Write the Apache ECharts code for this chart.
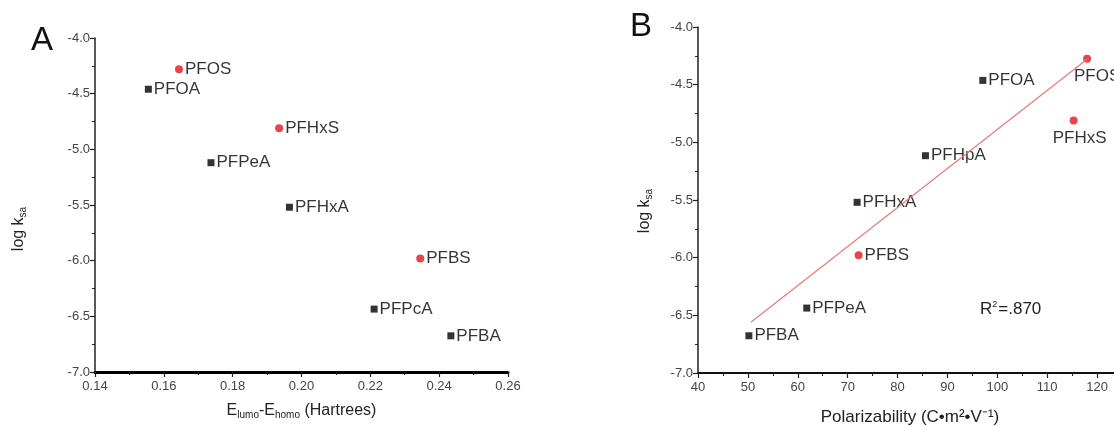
<!DOCTYPE html>
<html>
<head>
<meta charset="utf-8">
<script src="https://cdn.jsdelivr.net/npm/echarts@6/dist/echarts.min.js"></script>
<style>html,body{margin:0;padding:0;background:#fff;}#c{width:1114px;height:427px;}</style>
</head>
<body>
<div id="c"></div>
<script>
// Panel A: E_lumo - E_homo vs log k_sa
const aSquareNames = ['PFOA', 'PFPeA', 'PFHxA', 'PFPcA', 'PFBA'];
const aSquareX = [0.1555, 0.1737, 0.1965, 0.2211, 0.2434];
const aSquareY = [-4.46, -5.12, -5.52, -6.435, -6.675];
const aCircleNames = ['PFOS', 'PFHxS', 'PFBS'];
const aCircleX = [0.1644, 0.1935, 0.2345];
const aCircleY = [-4.28, -4.81, -5.98];

// Panel B: Polarizability vs log k_sa
const bSquareNames = ['PFOA', 'PFHpA', 'PFHxA', 'PFPeA', 'PFBA'];
const bSquareX = [97.1, 85.6, 71.9, 61.8, 50.2];
const bSquareY = [-4.463, -5.116, -5.52, -6.437, -6.677];
const bCircleNames = ['PFOS', 'PFHxS', 'PFBS'];
const bCircleX = [118.0, 115.3, 72.2];
const bCircleY = [-4.275, -4.81, -5.98];
const bFitX = [50.6, 118.0];
const bFitY = [-6.56, -4.28];
const bR2Text = 'R{sup|2}=.870';

const FONT = 'Liberation Sans, Arial, sans-serif';

function pts(names, xs, ys) {
  return names.map((n, i) => ({ name: n, value: [xs[i], ys[i]] }));
}

const chart = echarts.init(document.getElementById('c'));

function axisCommon(extra) {
  return Object.assign({
    type: 'value',
    splitLine: { show: false },
    axisLine: { show: true, onZero: false, lineStyle: { color: '#222', width: 1.5 } },
    axisTick: { show: true, inside: false, length: 5, lineStyle: { color: '#222', width: 1.2 } },
    minorTick: { show: true, splitNumber: 2, length: 3, lineStyle: { color: '#222', width: 1 } }
  }, extra);
}

const labelRight = { show: true, position: 'right', distance: 2, formatter: '{b}', color: '#000', fontSize: 17, fontFamily: FONT };

chart.setOption({
  animation: false,
  backgroundColor: '#fff',
  grid: [
    { left: 95, top: 38, width: 413, height: 334, outerBoundsMode: 'none', containLabel: false },
    { left: 698, top: 27, width: 424, height: 346, outerBoundsMode: 'none', containLabel: false }
  ],
  xAxis: [
    axisCommon({
      gridIndex: 0, min: 0.14, max: 0.26, interval: 0.02,
      axisLine: { show: true, onZero: false, lineStyle: { color: '#000', width: 3 } },
      axisLabel: { color: '#444', fontSize: 13, fontFamily: FONT, margin: 8, formatter: v => v.toFixed(2) },
      name: 'E{sub|lumo}-E{sub|homo} (Hartrees)', nameLocation: 'middle', nameGap: 29,
      nameTextStyle: { color: '#222', fontSize: 16, fontFamily: FONT,
        rich: { sub: { fontSize: 10, verticalAlign: 'bottom', padding: [9, 0, 0, 0], fontFamily: FONT, color: '#222' } } }
    }),
    axisCommon({
      gridIndex: 1, min: 40, max: 125, interval: 10,
      axisLine: { show: true, onZero: false, lineStyle: { color: '#111', width: 2 } },
      axisLabel: { color: '#444', fontSize: 13, fontFamily: FONT, margin: 8, showMaxLabel: false },
      name: 'Polarizability (C\u2022m\u00b2\u2022V\u207b\u00b9)', nameLocation: 'middle', nameGap: 36,
      nameTextStyle: { color: '#222', fontSize: 17, fontFamily: FONT }
    })
  ],
  yAxis: [
    axisCommon({ gridIndex: 0, min: -7, max: -4, interval: 0.5,
      axisLabel: { color: '#444', fontSize: 13, fontFamily: FONT, margin: 5, formatter: v => v.toFixed(1) } }),
    axisCommon({ gridIndex: 1, min: -7, max: -4, interval: 0.5,
      axisLabel: { color: '#444', fontSize: 13, fontFamily: FONT, margin: 5, formatter: v => v.toFixed(1) } })
  ],
  series: [
    { type: 'scatter', xAxisIndex: 0, yAxisIndex: 0, symbol: 'rect', symbolSize: 7,
      itemStyle: { color: '#000' }, label: labelRight, data: pts(aSquareNames, aSquareX, aSquareY) },
    { type: 'scatter', xAxisIndex: 0, yAxisIndex: 0, symbol: 'circle', symbolSize: 8,
      itemStyle: { color: '#e0181c' }, label: labelRight, data: pts(aCircleNames, aCircleX, aCircleY) },
    { type: 'line', xAxisIndex: 1, yAxisIndex: 1, symbol: 'none', silent: true,
      lineStyle: { color: '#e57a7a', width: 1.2 }, data: bFitX.map((x, i) => [x, bFitY[i]]) },
    { type: 'scatter', xAxisIndex: 1, yAxisIndex: 1, symbol: 'rect', symbolSize: 7,
      itemStyle: { color: '#000' }, label: labelRight, data: pts(bSquareNames, bSquareX, bSquareY) },
    { type: 'scatter', xAxisIndex: 1, yAxisIndex: 1, symbol: 'circle', symbolSize: 8,
      itemStyle: { color: '#e0181c' },
      label: labelRight,
      data: pts(bCircleNames, bCircleX, bCircleY).map(d => {
        if (d.name === 'PFOS') d.label = { position: 'bottom', distance: 5, offset: [10, 0] };
        else if (d.name === 'PFHxS') d.label = { position: 'bottom', distance: 5, offset: [6, 0] };
        return d;
      })
    }
  ],
  graphic: [
    { type: 'text', left: 31, top: 24, style: { text: 'A', font: '33px ' + FONT, fill: '#111' } },
    { type: 'text', left: 630, top: 10, style: { text: 'B', font: '33px ' + FONT, fill: '#111' } },
    { type: 'text', x: 19, y: 229, rotation: Math.PI / 2,
      style: { text: 'log k{sub|sa}', align: 'center', verticalAlign: 'middle', font: '16px ' + FONT, fill: '#222',
        rich: { sub: { fontSize: 10, fontFamily: FONT, fill: '#222', verticalAlign: 'bottom', padding: [8, 0, 0, 0] } } } },
    { type: 'text', x: 645, y: 211, rotation: Math.PI / 2,
      style: { text: 'log k{sub|sa}', align: 'center', verticalAlign: 'middle', font: '16px ' + FONT, fill: '#222',
        rich: { sub: { fontSize: 10, fontFamily: FONT, fill: '#222', verticalAlign: 'bottom', padding: [8, 0, 0, 0] } } } },
    { type: 'text', left: 980, top: 300,
      style: { text: bR2Text, font: '17px ' + FONT, fill: '#222',
        rich: { sup: { fontSize: 9, fontFamily: FONT, fill: '#222', verticalAlign: 'top', padding: [0, 1, 9, 0] } } } }
  ]
});
</script>
</body>
</html>
